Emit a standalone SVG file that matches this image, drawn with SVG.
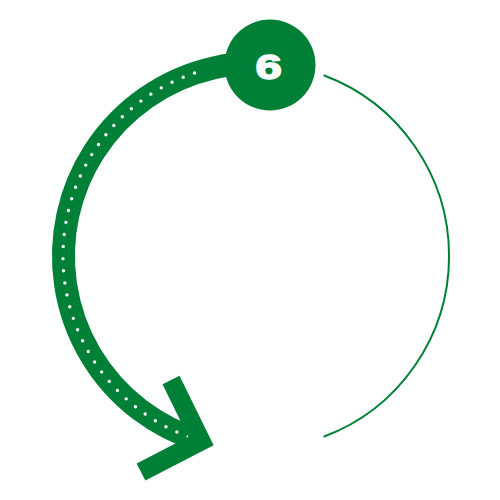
<svg xmlns="http://www.w3.org/2000/svg" width="500" height="500" viewBox="0 0 500 500">
  <style>
    .thin { fill: none; stroke: #008037; stroke-width: 2; }
    .band { fill: none; stroke: #008037; stroke-width: 23; }
    .dots { fill: none; stroke: #ffffff; stroke-width: 3.4; stroke-linecap: round; stroke-dasharray: 0 12.16; }
    .chev { fill: none; stroke: #008037; stroke-width: 19; stroke-linejoin: miter; stroke-miterlimit: 10; }
    .badge { fill: #008037; }
    .num { font-family: "Liberation Sans", Arial, sans-serif; font-weight: bold; font-size: 35px; fill: #ffffff; stroke: #ffffff; stroke-width: 1.6; stroke-linejoin: round; text-anchor: middle; }
  </style>
  <rect width="500" height="500" fill="#ffffff"/>
  <g id="connectors">
    <path class="thin" d="M 323.6 75.2 A 193 193 0 0 1 323.6 436.8"/>
    <path class="band" d="M 282.9 64.9 A 193 193 0 0 0 201.2 441.0"/>
    <path class="dots" d="M 199.6 440.6 A 193 193 0 0 1 206.0 69.6"/>
    <polyline class="chev" points="171,380 201,441 141,472"/>
  </g>
  <g id="node-6">
    <circle class="badge" cx="270" cy="65" r="45.5"/>
    <text class="num" transform="translate(268.7,79) scale(1.35,1)" x="0" y="0">6</text>
  </g>
</svg>
